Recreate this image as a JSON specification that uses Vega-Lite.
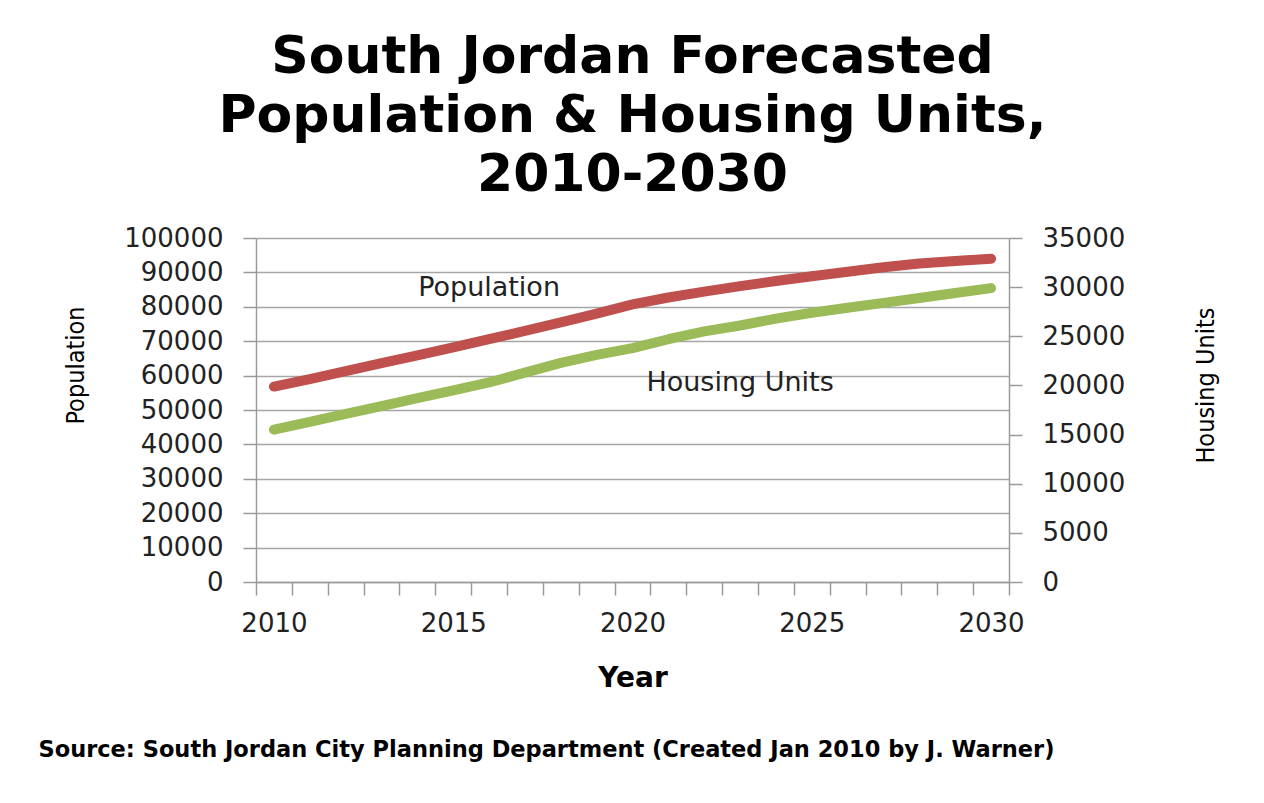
{
  "$schema": "https://vega.github.io/schema/vega-lite/v6.json",
  "width": 753,
  "height": 344,
  "autosize": {"type": "none"},
  "padding": {"left": 256, "top": 238, "right": 255, "bottom": 221},
  "background": "white",
  "title": {
    "text": ["South Jordan Forecasted", "Population & Housing Units,", "2010-2030"],
    "font": "DejaVu Sans",
    "fontSize": 52,
    "fontWeight": "bold",
    "lineHeight": 59,
    "color": "black",
    "offset": 23,
    "anchor": "middle"
  },
  "data": {
    "values": [
      {"year": 2010, "population": 56800, "housing": 15500},
      {"year": 2011, "population": 59000, "housing": 16300},
      {"year": 2012, "population": 61300, "housing": 17100},
      {"year": 2013, "population": 63600, "housing": 17900},
      {"year": 2014, "population": 65900, "housing": 18700},
      {"year": 2015, "population": 68200, "housing": 19500},
      {"year": 2016, "population": 70600, "housing": 20300},
      {"year": 2017, "population": 73000, "housing": 21300},
      {"year": 2018, "population": 75500, "housing": 22300},
      {"year": 2019, "population": 78000, "housing": 23100},
      {"year": 2020, "population": 80700, "housing": 23800},
      {"year": 2021, "population": 82700, "housing": 24700},
      {"year": 2022, "population": 84400, "housing": 25500},
      {"year": 2023, "population": 86000, "housing": 26100},
      {"year": 2024, "population": 87500, "housing": 26800},
      {"year": 2025, "population": 88900, "housing": 27400},
      {"year": 2026, "population": 90200, "housing": 27900},
      {"year": 2027, "population": 91500, "housing": 28400},
      {"year": 2028, "population": 92600, "housing": 28900},
      {"year": 2029, "population": 93300, "housing": 29400},
      {"year": 2030, "population": 94000, "housing": 29900}
    ]
  },
  "config": {
    "view": {"stroke": null},
    "axis": {
      "labelFont": "DejaVu Sans",
      "labelFontSize": 26,
      "labelColor": "#222222",
      "labelOverlap": false,
      "tickColor": "#9a9a9a",
      "tickWidth": 1.5,
      "tickSize": 13,
      "domainColor": "#9a9a9a",
      "domainWidth": 1.5,
      "gridColor": "#a6a6a6",
      "gridWidth": 1.5,
      "titleColor": "black"
    }
  },
  "layer": [
    {
      "layer": [
        {
          "mark": {"type": "line", "color": "#C0504D", "strokeWidth": 10, "strokeCap": "round", "strokeJoin": "round"},
          "encoding": {
            "x": {
              "field": "year", "type": "ordinal",
              "scale": {"type": "band", "paddingInner": 0, "paddingOuter": 0},
              "axis": {
                "title": "Year",
                "titleFont": "DejaVu Sans", "titleFontWeight": "bold", "titleFontSize": 28,
                "titleY": 96, "titleBaseline": "middle",
                "labelExpr": "datum.value % 5 == 0 ? datum.label : ''",
                "labelAngle": 0, "labelPadding": 15, "labelOverlap": false,
                "tickBand": "extent", "grid": false
              }
            },
            "y": {
              "field": "population", "type": "quantitative",
              "scale": {"domain": [0, 100000], "nice": false},
              "axis": {
                "values": [0, 10000, 20000, 30000, 40000, 50000, 60000, 70000, 80000, 90000, 100000],
                "tickCount": 11,
                "format": "d",
                "grid": true,
                "labelOverlap": false,
                "labelPadding": 20,
                "title": "Population",
                "titleFont": "DejaVu Sans Condensed, Liberation Sans Narrow, DejaVu Sans",
                "titleFontWeight": "normal", "titleFontSize": 25,
                "titleAngle": 270, "titleX": -181, "titleY": 127,
                "titleBaseline": "middle", "titleAlign": "center"
              }
            }
          }
        },
        {
          "data": {"values": [{"year": 2016, "population": 85600, "label": "Population"}]},
          "mark": {"type": "text", "font": "DejaVu Sans", "fontSize": 27, "color": "#222222", "align": "center", "baseline": "middle"},
          "encoding": {
            "x": {"field": "year", "type": "ordinal"},
            "y": {"field": "population", "type": "quantitative"},
            "text": {"field": "label"}
          }
        }
      ]
    },
    {
      "layer": [
        {
          "mark": {"type": "line", "color": "#9BBB59", "strokeWidth": 10, "strokeCap": "round", "strokeJoin": "round"},
          "encoding": {
            "x": {
              "field": "year", "type": "ordinal",
              "scale": {"type": "band", "paddingInner": 0, "paddingOuter": 0},
              "axis": {
                "orient": "bottom",
                "labels": false, "ticks": false, "domain": false, "grid": false,
                "title": "Source: South Jordan City Planning Department (Created Jan 2010 by J. Warner)",
                "titleFont": "DejaVu Sans", "titleFontWeight": "bold", "titleFontSize": 22.5,
                "titleX": -218, "titleY": 167, "titleAlign": "left", "titleBaseline": "middle"
              }
            },
            "y": {
              "field": "housing", "type": "quantitative",
              "scale": {"domain": [0, 35000], "nice": false},
              "axis": {
                "orient": "right",
                "values": [0, 5000, 10000, 15000, 20000, 25000, 30000, 35000],
                "format": "d",
                "grid": false,
                "labelPadding": 20,
                "title": "Housing Units",
                "titleFont": "DejaVu Sans Condensed, Liberation Sans Narrow, DejaVu Sans",
                "titleFontWeight": "normal", "titleFontSize": 25,
                "titleAngle": 270, "titleX": 196, "titleY": 147,
                "titleBaseline": "middle", "titleAlign": "center"
              }
            }
          }
        },
        {
          "data": {"values": [{"year": 2023, "housing": 20290, "label": "Housing Units"}]},
          "mark": {"type": "text", "font": "DejaVu Sans", "fontSize": 27, "color": "#222222", "align": "center", "baseline": "middle"},
          "encoding": {
            "x": {"field": "year", "type": "ordinal"},
            "y": {"field": "housing", "type": "quantitative"},
            "text": {"field": "label"}
          }
        }
      ]
    }
  ],
  "resolve": {"scale": {"x": "independent", "y": "independent"}}
}
